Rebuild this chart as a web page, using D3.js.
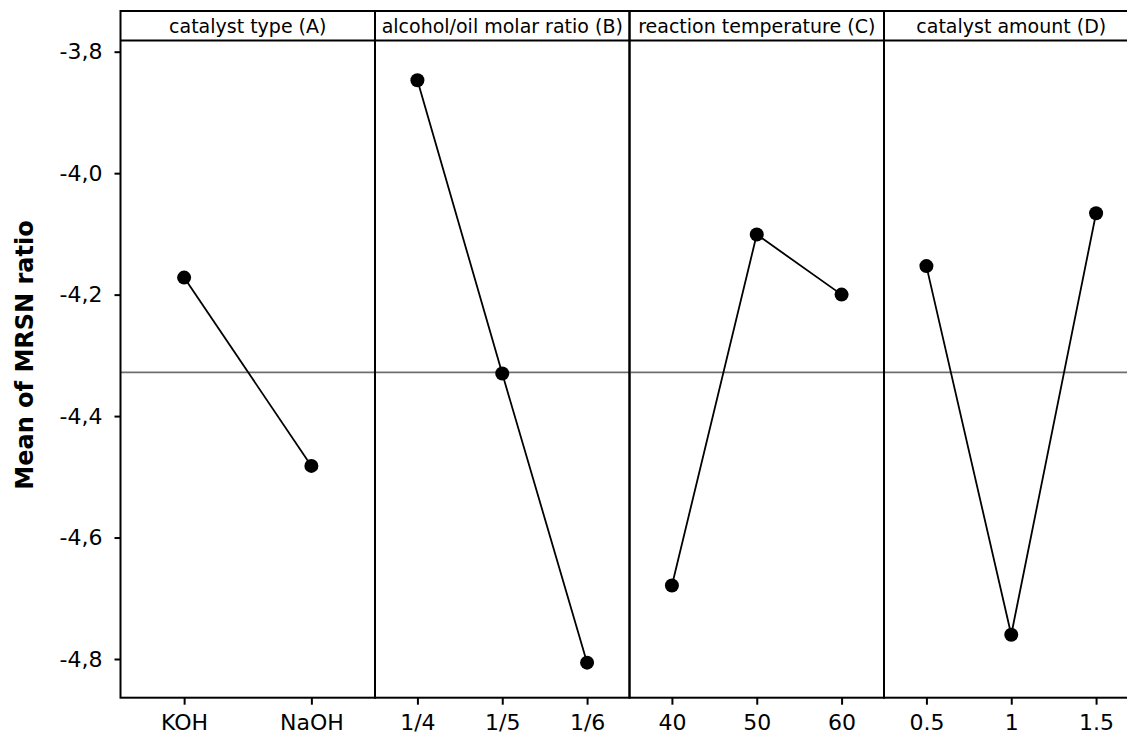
<!DOCTYPE html>
<html>
<head>
<meta charset="utf-8">
<script src="https://cdn.jsdelivr.net/npm/d3@7"></script>
<style>
  body { margin: 0; background: #fff; }
  svg { display: block; }
</style>
</head>
<body>
<svg id="chart" width="1127" height="736"></svg>
<script>
// Main effects data (mean of S/N ratios per factor level)
const factors = ["catalyst type (A)", "alcohol/oil molar ratio (B)", "reaction temperature (C)", "catalyst amount (D)"];
const levelsA = ["KOH", "NaOH"];
const meansA = [-4.172, -4.482];
const levelsB = ["1/4", "1/5", "1/6"];
const meansB = [-3.847, -4.330, -4.806];
const levelsC = ["40", "50", "60"];
const meansC = [-4.679, -4.101, -4.200];
const levelsD = ["0.5", "1", "1.5"];
const meansD = [-4.153, -4.760, -4.066];
const grandMean = -4.328;
const yTicks = [-3.8, -4.0, -4.2, -4.4, -4.6, -4.8];

const panels = [
    { title: factors[0], levels: levelsA, means: meansA },
    { title: factors[1], levels: levelsB, means: meansB },
    { title: factors[2], levels: levelsC, means: meansC },
    { title: factors[3], levels: levelsD, means: meansD }
];

const svg = d3.select("#chart");
const font = "DejaVu Sans, Verdana, sans-serif";

// layout
const left = 120.5, headTop = 11, headBottom = 40.5, bottom = 697.7;
const panelW = 254.5;

const y = d3.scaleLinear()
    .domain([-4.8, -3.8])
    .range([659, 51.7]);

// y axis, comma decimals and plain hyphen like the original
const yAxis = svg.append("g")
    .attr("transform", `translate(${left},0)`)
    .call(d3.axisLeft(y).tickValues(yTicks).tickSize(6).tickPadding(12)
        .tickFormat(d => d.toFixed(1).replace(".", ",")));
yAxis.select(".domain").remove();
yAxis.selectAll("line").attr("stroke", "#000").attr("stroke-width", 2);
yAxis.selectAll("text")
    .style("font-family", font)
    .style("font-size", "22px")
    .attr("fill", "#000");

// y label
svg.append("text")
    .attr("transform", "translate(33,355) rotate(-90)")
    .attr("text-anchor", "middle")
    .style("font-family", font)
    .style("font-size", "24px")
    .style("font-weight", "bold")
    .text("Mean of MRSN ratio");

panels.forEach((p, i) => {
    const x0 = left + i * panelW;
    const x = d3.scalePoint()
        .domain(p.levels)
        .range([x0, x0 + panelW])
        .padding(0.5);

    const g = svg.append("g");

    // reference line at grand mean
    g.append("line")
        .attr("x1", x0).attr("x2", x0 + panelW)
        .attr("y1", y(grandMean)).attr("y2", y(grandMean))
        .attr("stroke", "#6e6e6e")
        .attr("stroke-width", 1.6);

    // connecting line
    const pts = p.levels.map((l, j) => [x(l), y(p.means[j])]);
    g.append("path")
        .attr("d", d3.line()(pts))
        .attr("fill", "none")
        .attr("stroke", "#000")
        .attr("stroke-width", 1.8);

    g.selectAll("circle")
        .data(pts)
        .enter().append("circle")
        .attr("cx", d => d[0])
        .attr("cy", d => d[1])
        .attr("r", 7)
        .attr("fill", "#000");

    // panel frame + header strip
    g.append("rect")
        .attr("x", x0).attr("y", headTop)
        .attr("width", panelW).attr("height", bottom - headTop)
        .attr("fill", "none")
        .attr("stroke", "#000")
        .attr("stroke-width", 2);
    g.append("line")
        .attr("x1", x0).attr("x2", x0 + panelW)
        .attr("y1", headBottom).attr("y2", headBottom)
        .attr("stroke", "#000")
        .attr("stroke-width", 2);
    g.append("text")
        .attr("x", x0 + panelW / 2)
        .attr("y", 33)
        .attr("text-anchor", "middle")
        .style("font-family", font)
        .style("font-size", "19px")
        .text(p.title);

    // x axis
    const xa = g.append("g")
        .attr("transform", `translate(0,${bottom})`)
        .call(d3.axisBottom(x).tickSize(7).tickPadding(10));
    xa.select(".domain").remove();
    xa.selectAll("line").attr("stroke", "#000").attr("stroke-width", 2);
    xa.selectAll("text")
        .style("font-family", font)
        .style("font-size", "22px")
        .attr("fill", "#000");
});
</script>
</body>
</html>
